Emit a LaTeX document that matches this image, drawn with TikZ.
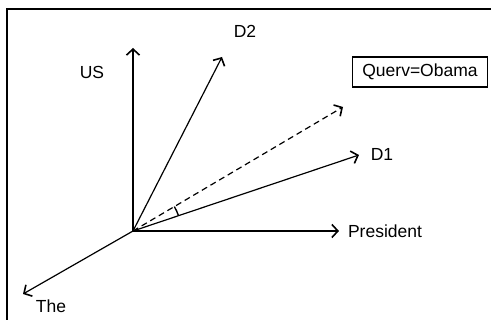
\documentclass[tikz,border=0pt]{standalone}
\usepackage{fontspec}
\setmainfont{Liberation Sans}
\usetikzlibrary{arrows.meta,calc}
\begin{document}
\begin{tikzpicture}[x=1pt,y=-1pt,
  vec/.style={line width=1.2pt,-{Straight Barb[length=6pt,width=13pt,line width=1.6pt]}},
  lbl/.style={font=\fontsize{17.5}{19}\selectfont,inner sep=0pt},
  qbox/.style={draw,line width=1.1pt,font=\fontsize{17.5}{19}\selectfont,inner xsep=3pt,inner ysep=4pt}]
\useasboundingbox (0,0) rectangle (491,320);
\draw[line width=1.3pt] (7,330) -- (7,9) -- (500,9);
\coordinate (o) at (133,231);
\coordinate (us) at (133,48);
\coordinate (d2) at (222,57);
\coordinate (q) at (343,107);
\coordinate (d1) at (359,155);
\coordinate (pr) at (339,231);
\coordinate (th) at (23,294);
\draw[vec] (o) -- (us);
\draw[vec] (o) -- (d2);
\draw[vec,dashed,dash pattern=on 6pt off 4pt] (o) -- (q);
\draw[vec] (o) -- (d1);
\draw[vec] (o) -- (pr);
\draw[vec] (o) -- (th);
\draw[line width=1.4pt] ($(o)!48pt!(d1)$) arc[start angle=18.6,end angle=30.6,radius=48pt];
\node[lbl] (uslbl) at (92,72) {US};
\node[lbl] (d2lbl) at (245,31) {D2};
\node[lbl] (d1lbl) at (382,154) {D1};
\node[lbl] (prlbl) at (385,231) {President};
\node[lbl] (thlbl) at (51,306) {The};
\node[qbox,minimum width=135pt,minimum height=30pt] (qlbl) at (420,72) {Querv=Obama};
\end{tikzpicture}
\end{document}
